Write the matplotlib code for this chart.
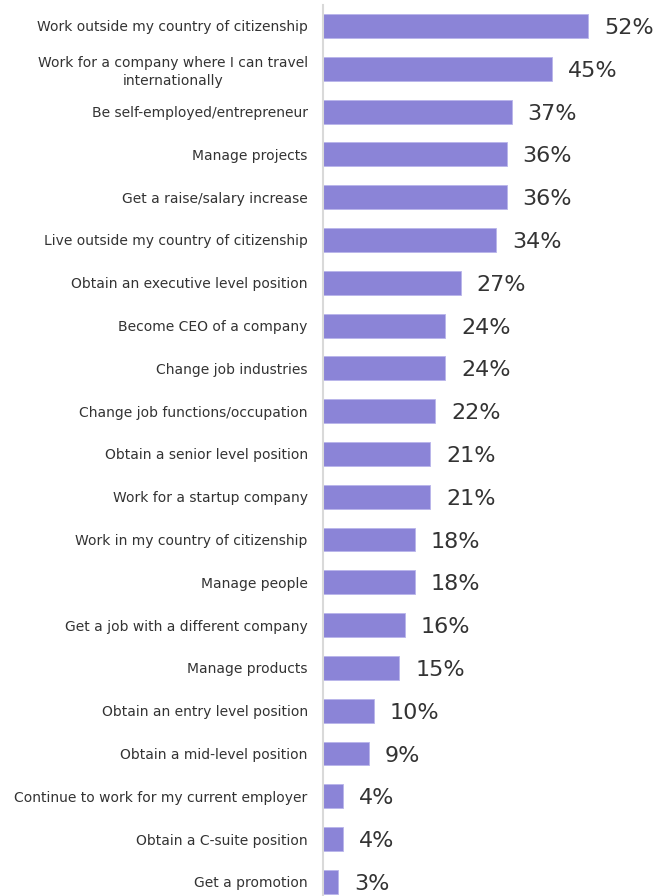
import matplotlib.pyplot as plt

labels = [
    "Work outside my country of citizenship",
    "Work for a company where I can travel\ninternationally",
    "Be self-employed/entrepreneur",
    "Manage projects",
    "Get a raise/salary increase",
    "Live outside my country of citizenship",
    "Obtain an executive level position",
    "Become CEO of a company",
    "Change job industries",
    "Change job functions/occupation",
    "Obtain a senior level position",
    "Work for a startup company",
    "Work in my country of citizenship",
    "Manage people",
    "Get a job with a different company",
    "Manage products",
    "Obtain an entry level position",
    "Obtain a mid-level position",
    "Continue to work for my current employer",
    "Obtain a C-suite position",
    "Get a promotion",
]
values = [52, 45, 37, 36, 36, 34, 27, 24, 24, 22, 21, 21, 18, 18, 16, 15, 10, 9, 4, 4, 3]

fig = plt.figure(figsize=(6.56, 8.96), dpi=100)
ax = fig.add_axes([323 / 656, 0, 1 - 323 / 656, 1 - 5 / 896])

pos = list(range(len(values)))
ax.barh(pos, values, height=0.56, color="#8B84D7", edgecolor="#b9b4ea", linewidth=0.6)
for p, v in zip(pos, values):
    ax.text(v + 3.1, p + 0.05, f"{v}%", va="center", ha="left", fontsize=16, color="#333333")

ax.set_xlim(0, 65.3)
ax.set_ylim(20.33, -0.49)
ax.set_yticks(pos)
ax.set_yticklabels(labels, fontsize=10, color="#333333", linespacing=1.35,
                   multialignment="center")
ax.tick_params(axis="y", length=0, pad=11)
ax.set_xticks([])
for s in ["top", "right", "bottom"]:
    ax.spines[s].set_visible(False)
ax.spines["left"].set_color("#d9d9d9")
ax.spines["left"].set_linewidth(1.5)

fig.savefig("out.png", dpi=100)
